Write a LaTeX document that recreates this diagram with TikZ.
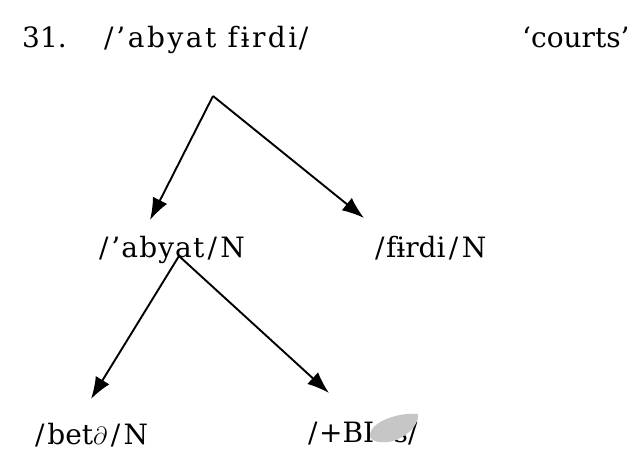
\documentclass[tikz,border=0pt]{standalone}
\usepackage{fontspec}
\setmainfont{DejaVu Serif}
\usetikzlibrary{arrows.meta}
\newcommand{\myslash}{\kern0.12em/\kern0.12em}
\begin{document}
\begin{tikzpicture}[x=1pt,y=-1pt,
  lbl/.style={anchor=base west,inner sep=0pt,font=\fontsize{28}{32}\selectfont},
  arr/.style={line width=1.9pt,-{Latex[length=22pt,width=16pt]}}]
\useasboundingbox (0,0) rectangle (643,459);
\node[lbl] (num) at (22,47) {31.};
\node[lbl] (top) at (104,47) {\addfontfeature{LetterSpace=9}/\kern0.1em’abyat fɨrdi\kern0.05em/};
\node[lbl] (gloss) at (522,47) {‘courts’};
\node[lbl] (abyat) at (99,257) {\addfontfeature{LetterSpace=4}/\kern0.1em’abyat\myslash N};
\node[lbl] (firdi) at (375,257) {/\kern0.05em fɨrdi\myslash N};
\node[lbl] (beta) at (35,444) {/\kern0.1em bet$\partial$\myslash N};
\node[lbl] (bis) at (308,442) {/\kern0.05em+BI\hspace{0.7em}s/};
\fill[gray!45] (370,434) .. controls (372,421) and (400,412) .. (418,414) .. controls (420,425) and (404,440) .. (388,442) .. controls (378,443) and (369,441) .. (370,434);
\coordinate (a1) at (213,96);
\coordinate (t1) at (150,220);
\coordinate (t2) at (364,218);
\coordinate (a2) at (179,256);
\coordinate (t3) at (91,399);
\coordinate (t4) at (329,393);
\draw[arr] (a1) -- (t1);
\draw[arr] (a1) -- (t2);
\draw[arr] (a2) -- (t3);
\draw[arr] (a2) -- (t4);
\end{tikzpicture}
\end{document}
